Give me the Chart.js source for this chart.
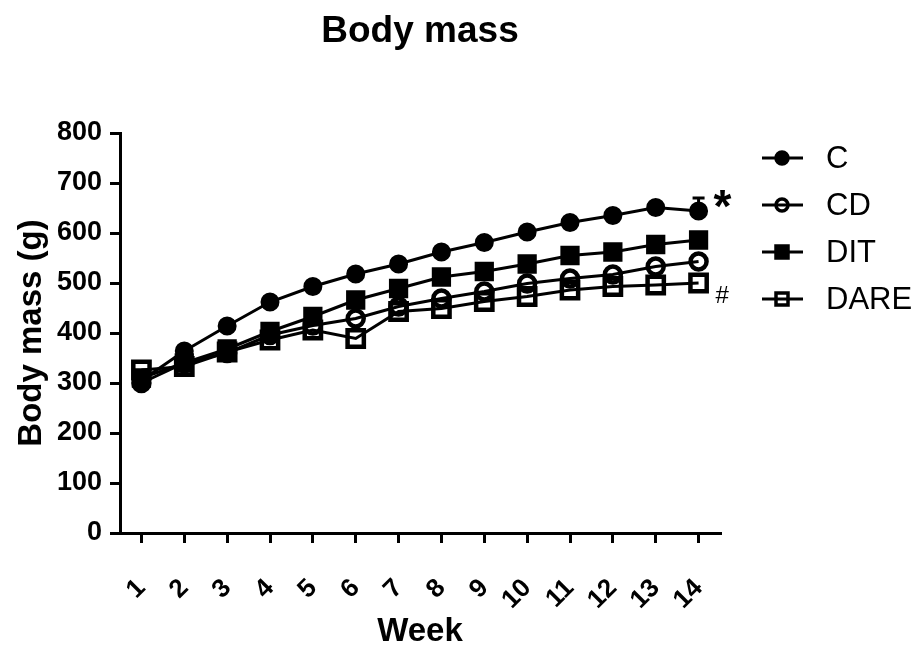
<!DOCTYPE html>
<html>
<head>
<meta charset="utf-8">
<script src="https://cdn.jsdelivr.net/npm/chart.js@4.4.0/dist/chart.umd.min.js"></script>
<style>
  html, body { margin: 0; padding: 0; background: #fff; }
</style>
</head>
<body>
<canvas id="myChart" width="921" height="645"></canvas>
<script>
// Body mass (g) per week
const weeks = [1, 2, 3, 4, 5, 6, 7, 8, 9, 10, 11, 12, 13, 14];
const groupC    = [305, 364, 414, 462, 493, 518, 538, 562, 581, 602, 621, 635, 651, 644];
const groupCD   = [300, 340, 360, 396, 415, 429, 453, 469, 483, 499, 509, 517, 533, 543];
const groupDIT  = [310, 340, 368, 403, 433, 466, 489, 512, 523, 538, 555, 562, 577, 586];
const groupDARE = [326, 333, 362, 386, 406, 389, 443, 449, 463, 473, 486, 493, 496, 500];
// only the last C point shows an (upper) error bar
const groupCErr = [0, 0, 0, 0, 0, 0, 0, 0, 0, 0, 0, 0, 0, 26];
const yTicks = [0, 100, 200, 300, 400, 500, 600, 700, 800];

const FONT = '"Liberation Sans", Arial, sans-serif';

function pts(arr) {
  return weeks.map((w, i) => ({ x: w, y: arr[i] }));
}

function series(label, arr, style, filled, order) {
  return {
    label: label,
    data: pts(arr),
    borderColor: '#000',
    borderWidth: 3,
    pointStyle: style,
    pointRadius: style === 'rect' ? 11.5 : 8,
    pointBorderWidth: filled ? 3 : 4.5,
    pointBorderColor: '#000',
    pointBackgroundColor: filled ? '#000' : 'rgba(255,255,255,0)',
    fill: false,
    tension: 0,
    order: order
  };
}

const extras = {
  id: 'extras',
  beforeDatasetsDraw(chart) {
    // error bar on C, week 14
    const ctx = chart.ctx, xs = chart.scales.x, ys = chart.scales.y;
    ctx.save();
    ctx.strokeStyle = '#000';
    ctx.lineWidth = 3;
    groupCErr.forEach((e, i) => {
      if (!e) return;
      const x = xs.getPixelForValue(weeks[i]);
      const y0 = ys.getPixelForValue(groupC[i]);
      const y1 = ys.getPixelForValue(groupC[i] + e);
      ctx.beginPath();
      ctx.moveTo(x, y0); ctx.lineTo(x, y1);
      ctx.moveTo(x - 6, y1); ctx.lineTo(x + 6, y1);
      ctx.stroke();
    });
    ctx.restore();
  },
  afterDraw(chart) {
    const ctx = chart.ctx, area = chart.chartArea;
    const xs = chart.scales.x, ys = chart.scales.y;
    ctx.save();
    ctx.fillStyle = '#000';
    // title
    ctx.font = 'bold 37px ' + FONT;
    ctx.textAlign = 'center';
    ctx.textBaseline = 'alphabetic';
    ctx.fillText('Body mass', (area.left + area.right) / 2, 42);

    // significance marks
    const last = weeks.length - 1;
    const xl = xs.getPixelForValue(weeks[last]);
    ctx.textAlign = 'left';
    ctx.font = 'bold 46px ' + FONT;
    ctx.fillText('*', xl + 15, ys.getPixelForValue(groupC[last] + groupCErr[last]) + 24);
    ctx.font = '24px ' + FONT;
    ctx.fillText('#', xl + 17, ys.getPixelForValue(groupDARE[last]) + 20);

    // legend: line with marker, then label
    const ds = chart.data.datasets;
    ctx.font = '31px ' + FONT;
    ctx.textBaseline = 'middle';
    ds.forEach((d, i) => {
      const y = 158 + i * 47;
      ctx.strokeStyle = '#000';
      ctx.lineWidth = 3;
      ctx.beginPath();
      ctx.moveTo(762, y); ctx.lineTo(803, y);
      ctx.stroke();
      ctx.fillStyle = d.pointBackgroundColor;
      ctx.lineWidth = 3.5;
      ctx.beginPath();
      if (d.pointStyle === 'rect') {
        ctx.rect(782 - 6, y - 6, 12, 12);
      } else {
        ctx.arc(782, y, 6, 0, Math.PI * 2);
      }
      ctx.fill();
      ctx.stroke();
      ctx.fillStyle = '#000';
      ctx.fillText(d.label, 826, y + 1);
    });
    ctx.restore();
  }
};

let myChart = document.getElementById('myChart').getContext('2d');

let chart = new Chart(myChart, {
  type: 'line',
  data: {
    datasets: [
      series('C', groupC, 'circle', true, 4),
      series('CD', groupCD, 'circle', false, 3),
      series('DIT', groupDIT, 'rect', true, 2),
      series('DARE', groupDARE, 'rect', false, 1)
    ]
  },
  options: {
    responsive: false,
    animation: false,
    layout: { padding: { top: 133, right: 201, left: 8, bottom: 0 } },
    plugins: {
      legend: { display: false },
      title: { display: false },
      tooltip: { enabled: false }
    },
    scales: {
      x: {
        type: 'linear',
        min: 0.5,
        max: 14.5,
        afterBuildTicks: (s) => { s.ticks = weeks.map(v => ({ value: v })); },
        afterFit: (s) => { s.height = 112; },
        ticks: {
          autoSkip: false,
          minRotation: 45,
          maxRotation: 45,
          padding: 30,
          color: '#000',
          font: { family: FONT, size: 26, weight: 'bold' }
        },
        grid: { drawOnChartArea: false, drawTicks: true, tickLength: 10, lineWidth: 3, color: '#000' },
        border: { display: true, width: 3, color: '#000' },
        title: {
          display: true,
          text: 'Week',
          color: '#000',
          font: { family: FONT, size: 33, weight: 'bold' },
          padding: { top: 10, bottom: -7 }
        }
      },
      y: {
        min: 0,
        max: 800,
        afterBuildTicks: (s) => { s.ticks = yTicks.map(v => ({ value: v })); },
        afterFit: (s) => { s.width = 112; },
        ticks: {
          padding: 8,
          color: '#000',
          font: { family: FONT, size: 27, weight: 'bold' }
        },
        grid: { drawOnChartArea: false, drawTicks: true, tickLength: 10, lineWidth: 3, color: '#000' },
        border: { display: true, width: 3, color: '#000' },
        title: {
          display: true,
          text: 'Body mass (g)',
          color: '#000',
          font: { family: FONT, size: 33, weight: 'bold' },
          padding: { bottom: 4 }
        }
      }
    }
  },
  plugins: [extras]
});
</script>
</body>
</html>
